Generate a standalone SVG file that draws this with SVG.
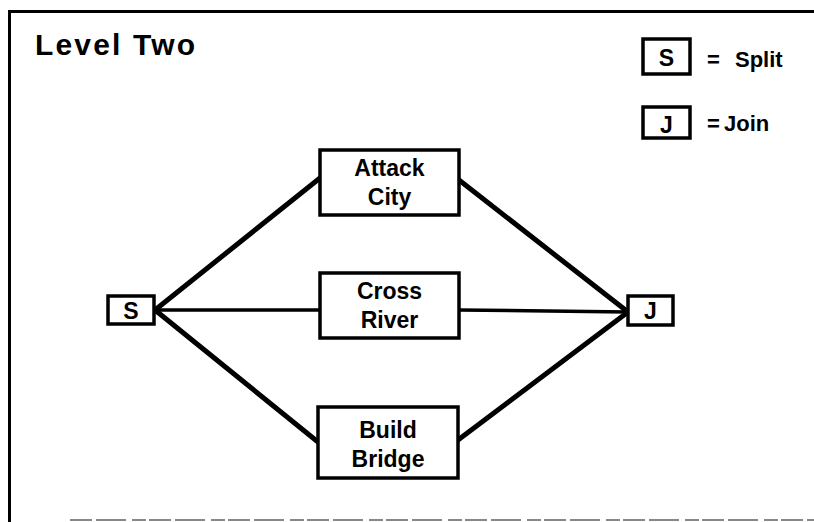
<svg xmlns="http://www.w3.org/2000/svg" width="814" height="522" viewBox="0 0 814 522">
  <style>
    .box { fill: #fff; stroke: #000; stroke-width: 3.5; }
    .edge { stroke: #000; stroke-width: 5; stroke-linecap: round; fill: none; }
    .edge.thin { stroke-width: 3.5; }
    .lbl { font-family: "Liberation Sans", Arial, sans-serif; font-weight: bold; font-size: 23px; fill: #000; text-anchor: middle; }
    .title { font-family: "Liberation Sans", Arial, sans-serif; font-weight: bold; font-size: 30px; fill: #000; }
    .legend { font-family: "Liberation Sans", Arial, sans-serif; font-weight: bold; font-size: 22px; fill: #000; }
  </style>

  <rect width="814" height="522" fill="#fff"/>

  <!-- frame -->
  <g id="frame">
    <line x1="8" y1="11.5" x2="814" y2="11.5" stroke="#000" stroke-width="3"/>
    <line x1="9.5" y1="10" x2="9.5" y2="522" stroke="#000" stroke-width="3"/>
    <line x1="70" y1="520" x2="814" y2="520" stroke="#888" stroke-width="2" stroke-dasharray="22 4 30 6 14 3"/>
  </g>

  <text class="title" x="35" y="55" textLength="160" lengthAdjust="spacing">Level Two</text>

  <!-- legend -->
  <g id="legend">
    <rect class="box" x="643" y="39" width="47" height="35"/>
    <text class="lbl" x="666.5" y="66">S</text>
    <text class="legend" x="707" y="67">=</text>
    <text class="legend" x="735" y="67">Split</text>
    <rect class="box" x="643" y="107" width="47" height="31"/>
    <text class="lbl" x="666.5" y="133">J</text>
    <text class="legend" x="707" y="131">=</text>
    <text class="legend" x="724" y="131">Join</text>
  </g>

  <!-- connectors -->
  <g id="connectors">
    <line class="edge" x1="155" y1="310" x2="320" y2="178"/>
    <line class="edge thin" x1="155" y1="310" x2="320" y2="310"/>
    <line class="edge" x1="155" y1="310" x2="318" y2="442"/>
    <line class="edge" x1="459" y1="180" x2="628" y2="312"/>
    <line class="edge thin" x1="459" y1="310" x2="628" y2="312"/>
    <line class="edge" x1="458" y1="440" x2="628" y2="312"/>
  </g>

  <g id="split">
    <rect class="box" x="108" y="296" width="46" height="28"/>
    <text class="lbl" x="131" y="319">S</text>
  </g>

  <g id="join">
    <rect class="box" x="628" y="296" width="45" height="29"/>
    <text class="lbl" x="650.5" y="319">J</text>
  </g>

  <g id="attack-city">
    <rect class="box" x="320" y="150" width="139" height="65"/>
    <text class="lbl" x="389.5" y="176">Attack</text>
    <text class="lbl" x="389.5" y="205">City</text>
  </g>

  <g id="cross-river">
    <rect class="box" x="320" y="273" width="139" height="65"/>
    <text class="lbl" x="389.5" y="299">Cross</text>
    <text class="lbl" x="389.5" y="328">River</text>
  </g>

  <g id="build-bridge">
    <rect class="box" x="318" y="407" width="140" height="71"/>
    <text class="lbl" x="388" y="438">Build</text>
    <text class="lbl" x="388" y="467">Bridge</text>
  </g>
</svg>
